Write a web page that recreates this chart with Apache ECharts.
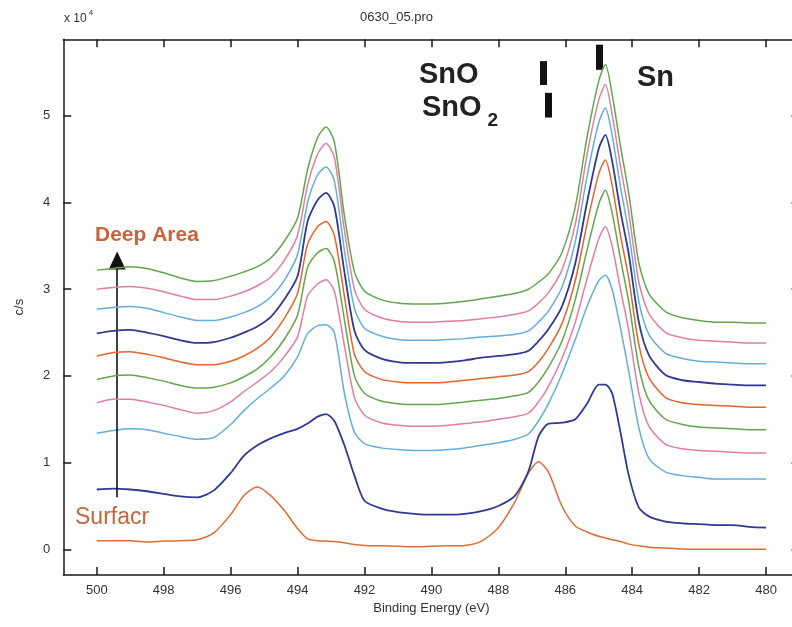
<!DOCTYPE html>
<html>
<head>
<meta charset="utf-8">
<script src="https://cdn.jsdelivr.net/npm/echarts@6/dist/echarts.min.js"></script>
<style>html,body{margin:0;padding:0;background:#fff;overflow:hidden;width:792px;height:627px}#c{width:800px;height:627px}</style>
</head>
<body>
<div id="c"></div>
<script>
// Binding energy grid (eV)
const energy = [500,499.5,499,498.5,498,497.5,497,496.5,496,495.6,495.2,494.8,494.4,494,493.7,493.4,493.15,492.9,492.6,492.3,492,491.5,491,490.5,490,489.5,489,488.5,488,487.5,487.1,486.8,486.5,486.1,485.7,485.35,485.0,484.8,484.6,484.35,484.1,483.8,483.5,483,482.5,482,481.5,481,480.5,480];

// Intensities in units of 10^4 c/s, from surface (bottom) to deep area (top)
const surface = [0.10,0.10,0.098,0.085,0.095,0.10,0.11,0.19,0.40,0.62,0.72,0.62,0.45,0.24,0.12,0.10,0.095,0.09,0.075,0.055,0.045,0.04,0.035,0.03,0.035,0.04,0.045,0.095,0.25,0.55,0.88,1.01,0.89,0.50,0.27,0.20,0.15,0.13,0.11,0.09,0.06,0.04,0.025,0.015,0.005,0,0,0,0,0];
const layer2 = [0.69,0.70,0.69,0.67,0.64,0.61,0.60,0.68,0.88,1.08,1.20,1.28,1.34,1.39,1.45,1.53,1.56,1.48,1.20,0.85,0.56,0.47,0.43,0.41,0.40,0.40,0.41,0.44,0.50,0.62,0.90,1.30,1.45,1.46,1.50,1.68,1.90,1.90,1.80,1.35,0.85,0.48,0.38,0.32,0.30,0.29,0.28,0.28,0.26,0.25];
const layer3 = [1.34,1.37,1.39,1.38,1.34,1.30,1.27,1.29,1.44,1.60,1.74,1.86,2.00,2.22,2.49,2.58,2.59,2.50,1.80,1.35,1.22,1.17,1.15,1.14,1.14,1.15,1.17,1.20,1.23,1.27,1.33,1.48,1.68,2.02,2.42,2.80,3.10,3.16,3.00,2.55,2.05,1.40,1.05,0.89,0.85,0.83,0.81,0.81,0.81,0.81];
const layer4 = [1.69,1.73,1.73,1.70,1.66,1.61,1.57,1.60,1.70,1.82,1.93,2.05,2.22,2.45,2.92,3.06,3.11,2.98,2.35,1.75,1.55,1.46,1.43,1.42,1.42,1.43,1.45,1.47,1.50,1.53,1.57,1.70,1.88,2.20,2.62,3.12,3.58,3.72,3.50,3.00,2.52,1.80,1.42,1.21,1.16,1.14,1.13,1.12,1.11,1.11];
const layer5 = [1.96,2.00,2.01,1.98,1.94,1.89,1.86,1.87,1.92,1.99,2.08,2.22,2.42,2.70,3.25,3.42,3.47,3.32,2.65,2.00,1.80,1.71,1.68,1.67,1.67,1.68,1.70,1.72,1.74,1.77,1.81,1.93,2.10,2.40,2.88,3.45,3.98,4.14,3.88,3.35,2.85,2.10,1.72,1.50,1.44,1.41,1.40,1.39,1.38,1.38];
const layer6 = [2.23,2.27,2.28,2.25,2.21,2.16,2.13,2.13,2.17,2.23,2.32,2.45,2.66,2.95,3.52,3.72,3.78,3.62,2.92,2.25,2.05,1.96,1.93,1.92,1.92,1.93,1.95,1.97,1.99,2.01,2.05,2.16,2.32,2.60,3.10,3.75,4.33,4.49,4.20,3.62,3.12,2.36,1.98,1.75,1.69,1.67,1.66,1.65,1.64,1.64];
const layer7 = [2.49,2.52,2.53,2.50,2.46,2.41,2.38,2.39,2.44,2.50,2.57,2.68,2.88,3.15,3.78,4.03,4.11,3.95,3.20,2.52,2.30,2.20,2.16,2.15,2.15,2.16,2.18,2.21,2.23,2.25,2.29,2.40,2.54,2.80,3.30,4.00,4.62,4.78,4.48,3.90,3.40,2.62,2.24,2.01,1.95,1.93,1.91,1.90,1.89,1.89];
const layer8 = [2.77,2.79,2.80,2.78,2.73,2.68,2.64,2.64,2.68,2.73,2.80,2.91,3.10,3.40,4.00,4.32,4.41,4.25,3.45,2.78,2.55,2.46,2.42,2.41,2.41,2.42,2.43,2.45,2.46,2.48,2.52,2.62,2.75,3.02,3.55,4.30,4.92,5.09,4.78,4.18,3.65,2.86,2.48,2.26,2.20,2.17,2.16,2.15,2.14,2.14];
const layer9 = [3.00,3.02,3.03,3.01,2.97,2.92,2.88,2.88,2.92,2.97,3.04,3.14,3.33,3.62,4.20,4.56,4.68,4.52,3.68,3.00,2.77,2.67,2.63,2.62,2.62,2.63,2.64,2.66,2.68,2.71,2.75,2.84,2.96,3.22,3.75,4.55,5.18,5.36,5.02,4.42,3.88,3.08,2.72,2.50,2.44,2.41,2.40,2.39,2.38,2.38];
const deep = [3.22,3.24,3.26,3.24,3.19,3.13,3.09,3.10,3.15,3.20,3.26,3.36,3.55,3.82,4.38,4.75,4.87,4.70,3.85,3.20,2.98,2.88,2.84,2.83,2.83,2.84,2.86,2.89,2.92,2.95,3.00,3.08,3.18,3.42,3.95,4.75,5.40,5.59,5.25,4.65,4.10,3.30,2.95,2.74,2.67,2.64,2.62,2.62,2.61,2.61];

const layers = [surface, layer2, layer3, layer4, layer5, layer6, layer7, layer8, layer9, deep];
const layerColors = ['#dd6d35','#2f3a93','#62afdc','#e07f9f','#62a64b','#e2652a','#2f3a93','#62afdc','#e07f9f','#62a64b'];

// Axis ticks
const xTicks = [500,498,496,494,492,490,488,486,484,482,480];
const yTicks = [0,1,2,3,4,5];

// Reference position markers: [energy, yTop, yBottom]
const markSnO = [486.66, 5.63, 5.355];
const markSnO2 = [486.52, 5.265, 4.98];
const markSn = [484.98, 5.82, 5.53];
// Depth arrow: [energy, yStart, yEnd]
const depthArrow = [499.39, 0.60, 3.33];

const FONT = 'Liberation Sans, Arial, Helvetica, sans-serif';
const chart = echarts.init(document.getElementById('c'), null, {renderer:'canvas', width: 800, height: 627});

const series = layers.map((vals, i) => ({
  type: 'line',
  xAxisIndex: 0, yAxisIndex: 0,
  data: energy.map((e, j) => [e, vals[j]]),
  showSymbol: false,
  smooth: 0.25,
  lineStyle: {color: layerColors[i], width: (i===1||i===6)?1.8:1.5},
  itemStyle: {color: layerColors[i]},
  silent: true,
  z: 2 + i
}));

series.push({
  type: 'line',
  data: [],
  silent: true,
  markLine: {
    silent: true,
    animation: false,
    symbol: 'none',
    label: {show: false},
    lineStyle: {color: '#111', width: 7, type: 'solid'},
    data: [markSnO, markSnO2, markSn].map(m => [{coord:[m[0], m[1]]},{coord:[m[0], m[2]]}])
  }
});
series.push({
  type: 'line',
  data: [],
  silent: true,
  markLine: {
    silent: true,
    animation: false,
    label: {show: false},
    lineStyle: {color: '#111', width: 1.6, type: 'solid'},
    data: [[{coord:[depthArrow[0], depthArrow[1]], symbol:'none'},{coord:[depthArrow[0], depthArrow[2]], symbol:'triangle', symbolSize:[17,18]}]]
  }
});

const axisLineStyle = {color: '#1a1a1a', width: 1.5};
const option = {
  animation: false,
  backgroundColor: '#fff',
  grid: {left: 63.3, width: 736.2, top: 39.3, height: 535.7},
  xAxis: [{
    type: 'value', inverse: true, min: 479, max: 501, position: 'bottom',
    name: 'Binding Energy (eV)', nameLocation: 'middle', nameGap: 26,
    nameTextStyle: {fontFamily: FONT, fontSize: 13, color: '#333'},
    axisLine: {show: true, onZero: false, lineStyle: axisLineStyle},
    axisTick: {show: true, inside: true, length: 8, customValues: xTicks, lineStyle: axisLineStyle},
    axisLabel: {show: true, customValues: xTicks, margin: 9, fontFamily: FONT, fontSize: 13, color: '#333'},
    splitLine: {show: false}
  },{
    type: 'value', inverse: true, min: 479, max: 501, position: 'top',
    axisLine: {show: true, onZero: false, lineStyle: axisLineStyle},
    axisTick: {show: true, inside: true, length: 8, customValues: xTicks, lineStyle: axisLineStyle},
    axisLabel: {show: false},
    splitLine: {show: false}
  }],
  yAxis: [{
    type: 'value', min: -0.296, max: 5.882, position: 'left',
    name: 'c/s', nameLocation: 'middle', nameGap: 37, nameRotate: 90,
    nameTextStyle: {fontFamily: FONT, fontSize: 13, color: '#333'},
    axisLine: {show: true, onZero: false, lineStyle: axisLineStyle},
    axisTick: {show: true, inside: true, length: 8, customValues: yTicks, lineStyle: axisLineStyle},
    axisLabel: {show: true, customValues: yTicks, margin: 13, fontFamily: FONT, fontSize: 13, color: '#333'},
    splitLine: {show: false}
  },{
    type: 'value', min: -0.296, max: 5.882, position: 'right',
    axisLine: {show: true, onZero: false, lineStyle: axisLineStyle},
    axisTick: {show: true, inside: true, length: 8, customValues: yTicks, lineStyle: axisLineStyle},
    axisLabel: {show: false},
    splitLine: {show: false}
  }],
  series: series,
  graphic: [
    {type:'text', left: 360, top: 11, style:{text:'0630_05.pro', fontFamily: FONT, fontSize: 13, fill:'#333'}},
    {type:'text', left: 64, top: 9, style:{text:'{a|x 10}{b|4}', fontFamily: FONT, rich:{a:{fontSize:12, fill:'#333', padding:[5,0,0,0]}, b:{fontSize:8, fill:'#333', padding:[0,0,6,2]}}}},
    {type:'text', left: 419, top: 60, style:{text:'SnO', fontFamily: FONT, fontSize: 29, fontWeight:'bold', fill:'#222'}},
    {type:'text', left: 422, top: 93, style:{text:'{m|SnO}{s|2}', fontFamily: FONT, fontWeight:'bold', fill:'#222', rich:{m:{fontSize:29, fontWeight:'bold', fill:'#222', lineHeight:32, padding:[0,0,8,0]}, s:{fontSize:19, fontWeight:'bold', fill:'#222', lineHeight:22, padding:[18,0,0,6]}}}},
    {type:'text', left: 637, top: 63, style:{text:'Sn', fontFamily: FONT, fontSize: 29, fontWeight:'bold', fill:'#222'}},
    {type:'text', left: 95, top: 225, style:{text:'Deep Area', fontFamily: FONT, fontSize: 21, fontWeight:'bold', fill:'#c6643b'}},
    {type:'text', left: 75, top: 506, style:{text:'Surfacr', fontFamily: FONT, fontSize: 23, fill:'#c6643b'}}
  ]
};
chart.setOption(option);
</script>
</body>
</html>
